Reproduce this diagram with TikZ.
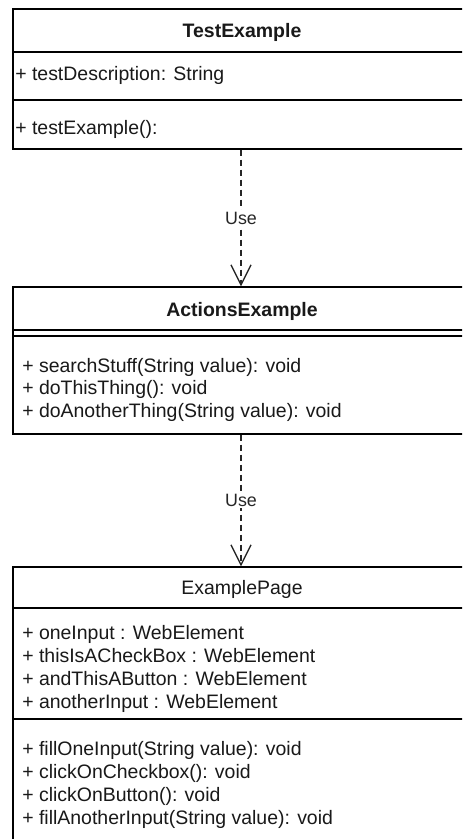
\documentclass[tikz,border=0pt]{standalone}
\usepackage{fontspec}
\setmainfont{Liberation Sans}
\usetikzlibrary{arrows.meta}
\begin{document}
\begin{tikzpicture}[x=0.75pt,y=-0.75pt,
  classbox/.style={draw=black,line width=1.1pt,fill=white,inner sep=0pt},
  sepline/.style={draw=black,line width=1.1pt},
  txt/.style={anchor=base west,inner sep=0pt,font=\fontsize{14.6}{17}\selectfont,text=black!90},
  ttl/.style={anchor=base,inner sep=0pt,font=\fontsize{14.6}{17}\selectfont,text=black!90},
  uselink/.style={draw=black!85,line width=1pt,dash pattern=on 4.5pt off 3pt,
     -{Straight Barb[length=15pt,width=15pt,line width=1pt]}},
  uselabel/.style={fill=white,inner sep=1pt,font=\fontsize{13.4}{15}\selectfont,text=black!85}
]
\clip (0,0) rectangle (462,839);
\fill[white] (0,0) rectangle (462,839);

% TestExample
\node[classbox,minimum width=456*0.75pt,minimum height=140*0.75pt] (test) at (241,79) {};
\draw[sepline] (13,52) -- (469,52);
\draw[sepline] (13,100) -- (469,100);
\node[ttl,font=\fontsize{14.6}{17}\selectfont\bfseries] (testT) at (242,37) {TestExample};
\node[txt] (testA) at (15,80) {+ testDescription: String};
\node[txt] (testM) at (15,134) {+ testExample():};

% ActionsExample
\node[classbox,minimum width=456*0.75pt,minimum height=147*0.75pt] (act) at (241,360.5) {};
\draw[sepline] (13,330) -- (469,330);
\draw[sepline] (13,336) -- (469,336);
\node[ttl,font=\fontsize{14.6}{17}\selectfont\bfseries] (actT) at (242,316) {ActionsExample};
\node[txt] (actM1) at (22,372) {+ searchStuff(String value): void};
\node[txt] (actM2) at (22,394.5) {+ doThisThing(): void};
\node[txt] (actM3) at (22,417) {+ doAnotherThing(String value): void};

% ExamplePage
\node[classbox,minimum width=456*0.75pt,minimum height=280*0.75pt] (page) at (241,707) {};
\draw[sepline] (13,608) -- (469,608);
\draw[sepline] (13,719) -- (469,719);
\node[ttl] (pageT) at (242,594) {ExamplePage};
\node[txt] (pageA1) at (22,639) {+ oneInput : WebElement};
\node[txt] (pageA2) at (22,662) {+ thisIsACheckBox : WebElement};
\node[txt] (pageA3) at (22,685) {+ andThisAButton : WebElement};
\node[txt] (pageA4) at (22,708) {+ anotherInput : WebElement};
\node[txt] (pageM1) at (22,755) {+ fillOneInput(String value): void};
\node[txt] (pageM2) at (22,778) {+ clickOnCheckbox(): void};
\node[txt] (pageM3) at (22,801) {+ clickOnButton(): void};
\node[txt] (pageM4) at (22,824) {+ fillAnotherInput(String value): void};

% connectors
\draw[uselink] (test.south) -- node[uselabel] {Use} (act.north);
\draw[uselink] (act.south) -- node[uselabel] {Use} (page.north);
\end{tikzpicture}
\end{document}
